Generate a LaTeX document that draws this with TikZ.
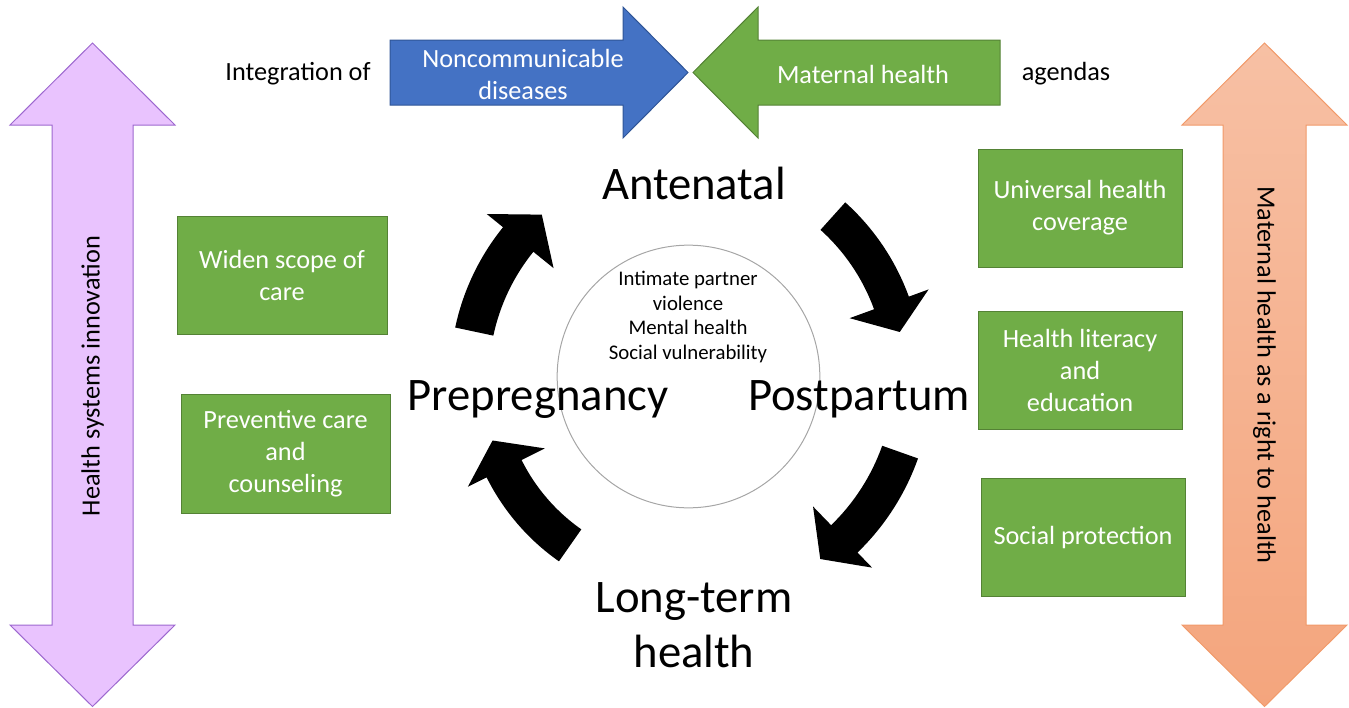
\documentclass[tikz,border=0pt]{standalone}
\usepackage{fontspec}
\setmainfont{Carlito}
\usetikzlibrary{}

\definecolor{boxgreen}{HTML}{70AD47}
\definecolor{boxgreenline}{HTML}{548235}
\definecolor{ncdblue}{HTML}{4472C4}
\definecolor{ncdblueline}{HTML}{2F5597}
\definecolor{lilac}{HTML}{E9C3FE}
\definecolor{lilacline}{HTML}{9D68CF}
\definecolor{peachtop}{HTML}{F7C0A4}
\definecolor{peachbottom}{HTML}{F4A57D}
\definecolor{peachline}{HTML}{F19A6A}
\definecolor{ringgray}{HTML}{A6A6A6}

% curved black arrow of the care cycle
% #1 tail angle, #2 head base angle, #3 tip angle, #4 inner radius, #5 outer radius
\newcommand{\cyclearrow}[5]{%
  \fill (#1:#5) arc[start angle=#1, end angle=#2, radius=#5]
    -- (#2:{#5+21}) -- (#3:{(#4+#5)/2}) -- (#2:{#4-26})
    -- (#2:#4) arc[start angle=#2, end angle=#1, radius=#4] -- cycle;}

\tikzset{
  greenbox/.style={draw=boxgreenline, fill=boxgreen, line width=0.75pt, text=white,
    align=center, inner sep=0pt, minimum width=153pt, minimum height=88.5pt,
    font=\fontsize{19.7}{24}\selectfont},
  toptext/.style={align=center, inner sep=0pt, font=\fontsize{19.7}{24}\selectfont},
  phase/.style={align=center, inner sep=0pt, font=\fontsize{35}{41}\selectfont},
}

\begin{document}
\begin{tikzpicture}[x=0.75pt, y=-0.75pt]
    \useasboundingbox (0,0) rectangle (1349,707);

    % side arrows
    \draw[lilacline, fill=lilac, line width=0.75pt]
      (92.5,43) -- (175,125) -- (133,125) -- (133,625) -- (175,625) -- (92.5,706.5)
      -- (10,625) -- (52,625) -- (52,125) -- (10,125) -- cycle;
    \draw[peachline, top color=peachtop, bottom color=peachbottom, line width=0.75pt]
      (1264.5,43) -- (1347,125) -- (1306,125) -- (1306,625) -- (1347,625) -- (1264.5,706.5)
      -- (1182,625) -- (1223,625) -- (1223,125) -- (1182,125) -- cycle;
    \node[rotate=90, inner sep=0pt, font=\fontsize{19.7}{24}\selectfont] (innovation) at (92.5,376) {Health systems innovation};
    \node[rotate=-90, inner sep=0pt, font=\fontsize{19.7}{24}\selectfont] (right) at (1264.5,375) {Maternal health as a right to health};

    % agendas
    \draw[ncdblueline, fill=ncdblue, line width=0.75pt]
      (390,40) -- (623,40) -- (623,7) -- (688,72.5) -- (623,138) -- (623,105) -- (390,105) -- cycle;
    \draw[boxgreenline, fill=boxgreen, line width=0.75pt]
      (1000,40) -- (758,40) -- (758,7) -- (693,72.5) -- (758,138) -- (758,105) -- (1000,105) -- cycle;
    \node[toptext] (integration) at (298,74) {Integration of};
    \node[toptext, text=white] (ncd) at (523,74) {Noncommunicable\\diseases};
    \node[toptext, text=white] (maternal) at (863,74) {Maternal health};
    \node[toptext] (agendas) at (1066,74) {agendas};

    % care cycle
    \node[draw=ringgray, circle, line width=0.75pt, minimum size=197pt, inner sep=0pt] (ring) at (688.5,376.5) {};
    \node[align=center, inner sep=0pt, font=\fontsize{15.6}{18.4}\selectfont] (risks) at (688,317)
      {Intimate partner\\violence\\Mental health\\Social vulnerability};
    \begin{scope}[shift={(688,377)}, yscale=-1]
      \cyclearrow{168}{141}{132}{199}{238}
      \cyclearrow{48}{20}{12}{198}{235}
      \cyclearrow{-19.5}{-46}{-54}{206}{244}
      \cyclearrow{235}{206.5}{198}{186}{225}
    \end{scope}
    \node[phase] (antenatal) at (694,183) {Antenatal};
    \node[phase] (prepregnancy) at (538,400) {Prepregnancy};
    \node[phase] (postpartum) at (859,399) {Postpartum};
    \node[phase] (longterm) at (694,625) {Long-term\\health};

    % levers
    \node[greenbox, minimum width=157.5pt] (scope) at (282,275) {Widen scope of\\care};
    \node[greenbox, minimum width=156.75pt, minimum height=89.25pt] (preventive) at (285.5,453.5) {Preventive care\\and\\counseling};
    \node[greenbox] (uhc) at (1080,208) {Universal health\\coverage};
    \node[greenbox] (literacy) at (1080,370) {Health literacy\\and\\education};
    \node[greenbox] (protection) at (1083,537) {Social protection};

\end{tikzpicture}
\end{document}
